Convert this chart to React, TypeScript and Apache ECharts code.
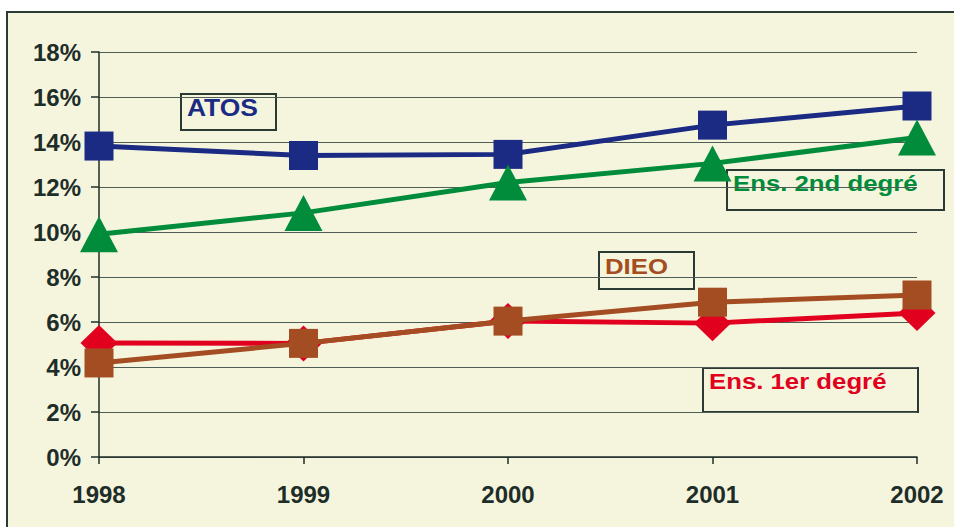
import React, { useEffect, useRef } from "react";
import * as echarts from "echarts";

const years = ["1998", "1999", "2000", "2001", "2002"];
const atos = [13.82, 13.4, 13.45, 14.75, 15.6];
const ens2 = [9.9, 10.85, 12.2, 13.05, 14.2];
const ens1 = [5.07, 5.05, 6.04, 5.95, 6.4];
const dieo = [4.18, 5.05, 6.04, 6.88, 7.2];

const BG = "#f5f5de";
const NAVY = "#1b2a83";
const GREEN = "#008c3a";
const RED = "#e2001f";
const BROWN = "#a44d22";
const DARK = "#1e2d28";
const FONT = "'Liberation Sans', Arial, sans-serif";

function labelBox(x: number, y: number, w: number, h: number, text: string, color: string, ty: number, sx: number) {
  return {
    type: "group",
    x,
    y,
    children: [
      { type: "rect", shape: { x: 0, y: 0, width: w, height: h }, style: { fill: BG, stroke: "#2a3a33", lineWidth: 2 } },
      {
        type: "text",
        x: 6,
        y: ty,
        scaleX: sx,
        style: { text, fill: color, font: `bold 23px ${FONT}`, textVerticalAlign: "middle" },
      },
    ],
  };
}

export default function App() {
  const ref = useRef<HTMLDivElement>(null);
  useEffect(() => {
    const chart = echarts.init(ref.current!, null, { renderer: "svg" });
    const lineSeries = (name: string, data: number[], color: string, symbol: string, size: any, z: number) => ({
      name,
      type: "line",
      data,
      symbol,
      symbolSize: size,
      z,
      lineStyle: { color, width: 5 },
      itemStyle: { color },
      emphasis: { disabled: true },
    });
    chart.setOption({
      animation: false,
      backgroundColor: "#ffffff",
      graphic: [
        {
          type: "rect",
          z: -10,
          shape: { x: 7, y: 12, width: 960, height: 530 },
          style: { fill: BG, stroke: "#2b3b33", lineWidth: 2 },
        },
        labelBox(181, 94, 95, 36, "ATOS", NAVY, 14, 1.15),
        labelBox(727, 170, 217, 40, "Ens. 2nd degré", GREEN, 13, 1.12),
        labelBox(599, 252, 95, 37, "DIEO", BROWN, 13.5, 1.12),
        labelBox(703, 368, 215, 44, "Ens. 1er degré", RED, 12.5, 1.12),
      ],
      grid: { left: 99, right: 37, top: 52, bottom: 70, containLabel: false },
      xAxis: {
        type: "category",
        data: years,
        boundaryGap: false,
        axisLine: { lineStyle: { color: DARK, width: 1.5 } },
        axisTick: { length: 7, lineStyle: { color: DARK, width: 1.5 } },
        axisLabel: { color: DARK, fontSize: 24, fontWeight: "bold", fontFamily: FONT, margin: 25 },
        splitLine: { show: false },
      },
      yAxis: {
        type: "value",
        min: 0,
        max: 18,
        interval: 2,
        axisLine: { show: true, lineStyle: { color: DARK, width: 1.5 } },
        axisTick: { show: true, length: 8, lineStyle: { color: DARK, width: 1.5 } },
        axisLabel: { color: DARK, fontSize: 24, fontWeight: "bold", fontFamily: FONT, margin: 18, formatter: "{value}%" },
        splitLine: { lineStyle: { color: "#4e5e56", width: 1.2 } },
      },
      series: [
        lineSeries("ATOS", atos, NAVY, "rect", 29, 2),
        lineSeries("Ens. 2nd degré", ens2, GREEN, "triangle", [38, 36], 3),
        lineSeries("Ens. 1er degré", ens1, RED, "diamond", [37, 36], 4),
        lineSeries("DIEO", dieo, BROWN, "rect", 29, 5),
      ],
    });
    return () => chart.dispose();
  }, []);
  return <div ref={ref} style={{ position: "fixed", left: 0, top: 0, width: 954, height: 527 }} />;
}
